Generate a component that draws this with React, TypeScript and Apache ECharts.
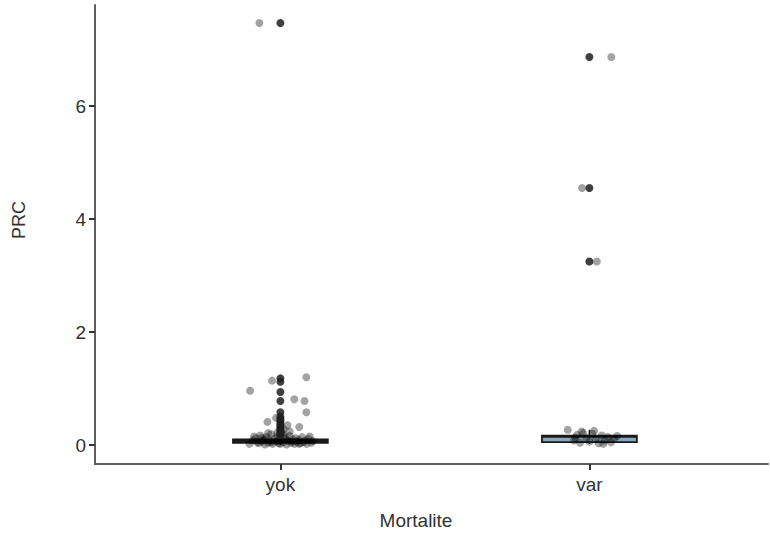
import React, { useEffect, useRef } from "react";
import * as echarts from "echarts";

const categories = ["yok", "var"];
const categoryPositions = [1, 2];
const yTicks = [0, 2, 4, 6];

// [lowerWhisker, Q1, median, Q3, upperWhisker]
const boxStats = [
  [0, 0.04, 0.075, 0.1, 0.17],
  [0.02, 0.05, 0.15, 0.165, 0.27],
];

// Outliers drawn at category centre [x, PRC]
const outliers = [
  [1, 7.47], [1, 1.18], [1, 1.12], [1, 0.94], [1, 0.78], [1, 0.58],
  [1, 0.5], [1, 0.46], [1, 0.42], [1, 0.38], [1, 0.35], [1, 0.32],
  [1, 0.29], [1, 0.26], [1, 0.23], [1, 0.2], [1, 0.18],
  [2, 6.87], [2, 4.55], [2, 3.25],
];

// Jittered raw observations [x, PRC]
const jitterYok = [
  [0.932, 7.47], [1.084, 1.2], [0.973, 1.14], [0.902, 0.96], [1.045, 0.81],
  [1.078, 0.78], [1.084, 0.58], [0.986, 0.48], [0.958, 0.41], [1.023, 0.35],
  [1.061, 0.32], [1.0, 0.44], [1.01, 0.28], [0.99, 0.22],
  [0.90, 0.02], [0.91, 0.08], [0.92, 0.12], [0.93, 0.03], [0.935, 0.17],
  [0.94, 0.06], [0.945, 0.1], [0.95, 0.01], [0.955, 0.14], [0.96, 0.04],
  [0.965, 0.08], [0.97, 0.19], [0.975, 0.02], [0.98, 0.11], [0.985, 0.06],
  [0.99, 0.15], [0.995, 0.03], [1.0, 0.09], [1.005, 0.22], [1.01, 0.05],
  [1.015, 0.13], [1.02, 0.01], [1.025, 0.07], [1.03, 0.16], [1.035, 0.04],
  [1.04, 0.1], [1.045, 0.02], [1.05, 0.12], [1.055, 0.06], [1.06, 0.09],
  [1.065, 0.03], [1.07, 0.14], [1.075, 0.05], [1.08, 0.08], [1.085, 0.02],
  [1.09, 0.11], [1.1, 0.04], [1.105, 0.07], [0.925, 0.05], [0.95, 0.09],
  [0.97, 0.05], [0.99, 0.07], [1.0, 0.02], [1.02, 0.1], [1.04, 0.06],
  [1.06, 0.02], [0.94, 0.13], [1.01, 0.18], [0.96, 0.21], [1.03, 0.24],
  [0.915, 0.15], [1.095, 0.15],
];

const jitterVar = [
  [2.071, 6.87], [1.976, 4.55], [2.024, 3.25],
  [1.93, 0.27], [1.95, 0.08], [1.96, 0.18], [1.97, 0.04], [1.98, 0.21],
  [1.99, 0.12], [2.0, 0.06], [2.01, 0.2], [2.02, 0.1], [2.03, 0.03],
  [2.04, 0.17], [2.05, 0.08], [2.06, 0.14], [2.07, 0.05], [2.08, 0.11],
  [2.09, 0.16], [1.975, 0.24], [2.015, 0.25], [1.955, 0.13], [2.045, 0.02],
];

const BOX_WIDTH = 0.307;
const FONT = "Liberation Sans";

export default function App() {
  const ref = useRef<HTMLDivElement>(null);
  useEffect(() => {
    if (!ref.current) return;
    const chart = echarts.init(ref.current, null, { renderer: "svg" });
    const boxData = boxStats.map((s, i) => [categoryPositions[i], ...s]);
    chart.setOption({
      animation: false,
      backgroundColor: "#ffffff",
      grid: { left: 95, top: 5, right: 2, bottom: 74, containLabel: false },
      xAxis: {
        type: "value",
        min: 0.4,
        max: 2.578,
        splitLine: { show: false },
        axisLine: { show: true, onZero: false, lineStyle: { color: "#5e5e5e", width: 2 } },
        axisTick: { show: true, customValues: categoryPositions, length: 6, lineStyle: { color: "#333", width: 2 } },
        axisLabel: {
          customValues: categoryPositions,
          formatter: (v: number) => categories[categoryPositions.indexOf(v)] ?? "",
          color: "#333",
          fontSize: 19,
          fontFamily: FONT,
          margin: 11,
        },
      },
      yAxis: {
        type: "value",
        min: -0.336,
        max: 7.79,
        splitLine: { show: false },
        axisLine: { show: true, onZero: false, lineStyle: { color: "#5e5e5e", width: 2 } },
        axisTick: { show: true, customValues: yTicks, length: 6, lineStyle: { color: "#333", width: 2 } },
        axisLabel: {
          customValues: yTicks,
          color: "#333",
          fontSize: 19,
          fontFamily: FONT,
          margin: 9,
        },
      },
      graphic: [
        {
          type: "text",
          x: 19,
          y: 220,
          rotation: Math.PI / 2,
          style: { text: "PRC", fontSize: 18, fontFamily: FONT, fill: "#333", align: "center", verticalAlign: "middle" },
        },
        {
          type: "text",
          x: 416,
          y: 520,
          style: { text: "Mortalite", fontSize: 19, fontFamily: FONT, fill: "#333", align: "center", verticalAlign: "middle" },
        },
      ],
      series: [
        {
          type: "custom",
          data: boxData,
          z: 1,
          renderItem: (params: any, api: any) => {
            const x = api.value(0);
            const lw = api.value(1), q1 = api.value(2), med = api.value(3), q3 = api.value(4), uw = api.value(5);
            const half = api.size([BOX_WIDTH, 0])[0] / 2;
            const pQ1 = api.coord([x, q1]);
            const pQ3 = api.coord([x, q3]);
            const pMed = api.coord([x, med]);
            const pLw = api.coord([x, lw]);
            const pUw = api.coord([x, uw]);
            const stroke = { stroke: "#1a1a1a", lineWidth: 1.5 };
            return {
              type: "group",
              children: [
                { type: "line", shape: { x1: pQ3[0], y1: pQ3[1], x2: pUw[0], y2: pUw[1] }, style: stroke },
                { type: "line", shape: { x1: pQ1[0], y1: pQ1[1], x2: pLw[0], y2: pLw[1] }, style: stroke },
                {
                  type: "rect",
                  shape: { x: pQ1[0] - half, y: pQ3[1], width: half * 2, height: Math.max(pQ1[1] - pQ3[1], 1) },
                  style: { fill: "#8aa9bc", stroke: "#1a1a1a", lineWidth: 1.8 },
                },
                { type: "line", shape: { x1: pMed[0] - half, y1: pMed[1], x2: pMed[0] + half, y2: pMed[1] }, style: { stroke: "#1a1a1a", lineWidth: 2.5 } },
              ],
            };
          },
        },
        {
          type: "scatter",
          data: outliers,
          symbolSize: 8,
          z: 3,
          itemStyle: { color: "#1e1e1e", opacity: 0.85 },
        },
        {
          type: "scatter",
          data: jitterYok,
          symbolSize: 8,
          z: 2,
          itemStyle: { color: "#000", opacity: 0.36 },
        },
        {
          type: "scatter",
          data: jitterVar,
          symbolSize: 8,
          z: 2,
          itemStyle: { color: "#000", opacity: 0.36 },
        },
      ],
    });
    return () => chart.dispose();
  }, []);
  return <div ref={ref} style={{ width: 770, height: 538, position: "absolute", left: 0, top: 0 }} />;
}
